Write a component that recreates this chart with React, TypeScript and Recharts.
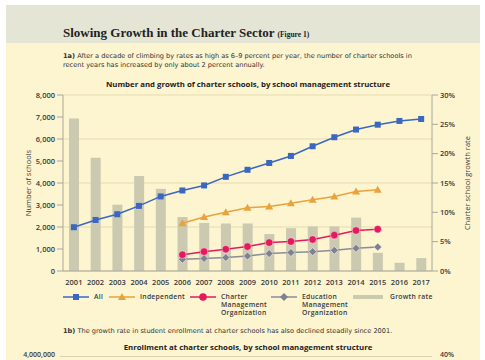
import React from "react";
import {
  ComposedChart, Bar, Line, XAxis, YAxis, CartesianGrid,
} from "recharts";

const years = ["2001", "2002", "2003", "2004", "2005", "2006", "2007", "2008", "2009",
  "2010", "2011", "2012", "2013", "2014", "2015", "2016", "2017"];
const allSchools = [1990, 2320, 2580, 2960, 3390, 3660, 3890, 4280, 4600, 4910, 5230, 5670, 6080, 6430, 6650, 6820, 6910];
const independent = [null, null, null, null, null, 2170, 2450, 2670, 2870, 2930, 3080, 3240, 3390, 3610, 3690, null, null];
const cmo = [null, null, null, null, null, 740, 880, 990, 1110, 1290, 1340, 1430, 1630, 1840, 1900, null, null];
const emo = [null, null, null, null, null, 530, 570, 610, 680, 790, 840, 880, 940, 1030, 1090, null, null];
const growthRate = [26.0, 19.3, 11.3, 16.2, 14.0, 9.2, 8.2, 8.1, 8.1, 6.3, 7.3, 7.6, 7.6, 9.1, 3.1, 1.4, 2.2];
const leftTicks = [0, 1000, 2000, 3000, 4000, 5000, 6000, 7000, 8000];
const rightTicks = [0, 5, 10, 15, 20, 25, 30];

const data = years.map((year, i) => ({
  year,
  all: allSchools[i],
  independent: independent[i],
  cmo: cmo[i],
  emo: emo[i],
  growth: growthRate[i],
}));

const BLUE = "#3b67c1";
const ORANGE = "#e8a33d";
const PINK = "#e31b5d";
const GRAY = "#7f8090";
const BAR = "#cbcab1";
const CREAM = "#fdf4d0";
const TEXT = "#3a3a3a";
const SANS = "'Open Sans', sans-serif";
const WIDE = "'DejaVu Sans', sans-serif";

const ok = (p: any) => p.cx != null && p.cy != null && p.value != null;

const SquareDot = (p: any) =>
  ok(p) ? <rect key={p.key} x={p.cx - 3} y={p.cy - 3} width={6} height={6} fill={BLUE} />
        : <g key={p.key} />;
const TriangleDot = (p: any) =>
  ok(p) ? <path key={p.key} d={`M${p.cx},${p.cy - 4}L${p.cx + 4},${p.cy + 3}L${p.cx - 4},${p.cy + 3}Z`} fill={ORANGE} />
        : <g key={p.key} />;
const CircleDot = (p: any) =>
  ok(p) ? <circle key={p.key} cx={p.cx} cy={p.cy} r={3.8} fill={PINK} stroke="rgba(255,255,255,0.45)" strokeWidth={1} />
        : <g key={p.key} />;
const DiamondDot = (p: any) =>
  ok(p) ? <path key={p.key} d={`M${p.cx},${p.cy - 4}L${p.cx + 4},${p.cy}L${p.cx},${p.cy + 4}L${p.cx - 4},${p.cy}Z`}
                fill={GRAY} stroke="rgba(255,255,255,0.55)" strokeWidth={1} />
        : <g key={p.key} />;

const tickStyle = { fill: TEXT, fontSize: 7.5, fontFamily: SANS, fontWeight: 600 };

function LegendItem({ left, color, marker, label }: { left: number; color: string; marker: React.ReactNode; label: string[] }) {
  return (
    <div style={{ position: "absolute", left, top: 292, display: "flex" }}>
      <svg width={28} height={10}>
        <line x1={0} y1={5} x2={26} y2={5} stroke={color} strokeWidth={1.5} />
        {marker}
      </svg>
      <div style={{ fontSize: 6.8, lineHeight: "8px", color: TEXT, fontFamily: SANS, fontWeight: 600, letterSpacing: 0.25, marginLeft: 3, marginTop: 1 }}>
        {label.map((l) => <div key={l}>{l}</div>)}
      </div>
    </div>
  );
}

export default function App() {
  return (
    <div style={{ position: "absolute", left: 0, top: 0, width: 485, height: 360, background: "#fff", overflow: "hidden" }}>
      <div style={{ position: "absolute", left: 6, top: 5, width: 474, height: 360, background: CREAM }} />
      <div style={{ position: "absolute", left: 6, top: 5, width: 474, height: 38, background: "#e4e5d5" }} />
      <div style={{ position: "absolute", left: 63, top: 25, fontFamily: "'Liberation Serif', serif", fontWeight: 700, fontSize: 13, color: "#222", whiteSpace: "nowrap" }}>
        Slowing Growth in the Charter Sector <span style={{ fontSize: 7.5 }}>(Figure 1)</span>
      </div>
      <div style={{ position: "absolute", left: 63, top: 52, width: 420, fontFamily: WIDE, fontSize: 6.6, lineHeight: "9px", color: "#333", whiteSpace: "nowrap" }}>
        <b>1a)</b> After a decade of climbing by rates as high as 6–9 percent per year, the number of charter schools in
        <br />recent years has increased by only about 2 percent annually.
      </div>
      <div style={{ position: "absolute", left: 63, width: 370, top: 79, textAlign: "center", fontFamily: SANS, fontWeight: 700, fontSize: 7.8, color: "#222" }}>
        Number and growth of charter schools, by school management structure
      </div>

      <div style={{ position: "absolute", left: 0, top: 0 }}>
        <ComposedChart width={485} height={290} data={data} margin={{ top: 95, right: 0, bottom: 0, left: 0 }}>
          <CartesianGrid yAxisId="left" vertical={false} stroke="#e6dcae" strokeWidth={1} />
          <XAxis dataKey="year" height={19} tickLine={false} axisLine={{ stroke: "#a8a89a" }} tick={tickStyle} interval={0} tickMargin={3} />
          <YAxis yAxisId="left" width={63} domain={[0, 8000]} ticks={leftTicks} tick={tickStyle}
            tickFormatter={(v: number) => v.toLocaleString("en-US")} tickSize={6} tickMargin={2}
            axisLine={{ stroke: "#a8a89a" }} tickLine={{ stroke: "#a8a89a" }}
            label={{ value: "Number of schools", angle: -90, position: "insideLeft", offset: 28, style: { fill: TEXT, fontSize: 7.5, fontFamily: SANS, textAnchor: "middle" } }} />
          <YAxis yAxisId="right" orientation="right" width={53} domain={[0, 30]} ticks={rightTicks} tick={{ ...tickStyle, textAnchor: "start" }}
            tickFormatter={(v: number) => `${v}%`} tickSize={6} tickMargin={2}
            axisLine={{ stroke: "#a8a89a" }} tickLine={{ stroke: "#a8a89a" }}
            label={{ value: "Charter school growth rate", angle: -90, position: "insideRight", offset: 18, style: { fill: TEXT, fontSize: 7.5, fontFamily: SANS, textAnchor: "middle" } }} />
          <Bar yAxisId="right" dataKey="growth" fill={BAR} barSize={10} isAnimationActive={false} />
          <Line yAxisId="left" dataKey="emo" stroke="#8b8c98" strokeWidth={1.5} dot={DiamondDot} isAnimationActive={false} />
          <Line yAxisId="left" dataKey="cmo" stroke={PINK} strokeWidth={1.5} dot={CircleDot} isAnimationActive={false} />
          <Line yAxisId="left" dataKey="independent" stroke={ORANGE} strokeWidth={1.5} dot={TriangleDot} isAnimationActive={false} />
          <Line yAxisId="left" dataKey="all" stroke={BLUE} strokeWidth={1.5} dot={SquareDot} isAnimationActive={false} />
        </ComposedChart>
      </div>

      <LegendItem left={63} color={BLUE} label={["All"]}
        marker={<rect x={10} y={2} width={6} height={6} fill={BLUE} />} />
      <LegendItem left={109} color={ORANGE} label={["Independent"]}
        marker={<path d="M13,1L17,8L9,8Z" fill={ORANGE} />} />
      <LegendItem left={190} color={PINK} label={["Charter", "Management", "Organization"]}
        marker={<circle cx={13} cy={5} r={3.8} fill={PINK} />} />
      <LegendItem left={271} color="#8b8c98" label={["Education", "Management", "Organization"]}
        marker={<path d="M13,1L17,5L13,9L9,5Z" fill={GRAY} />} />
      <div style={{ position: "absolute", left: 353, top: 292, display: "flex" }}>
        <div style={{ width: 30, height: 4, marginTop: 3, background: BAR }} />
        <div style={{ fontSize: 6.8, lineHeight: "8px", color: TEXT, fontFamily: SANS, fontWeight: 600, letterSpacing: 0.25, marginLeft: 7, marginTop: 1 }}>Growth rate</div>
      </div>

      <div style={{ position: "absolute", left: 63, top: 327, fontFamily: WIDE, fontSize: 6.6, color: "#333", whiteSpace: "nowrap" }}>
        <b>1b)</b> The growth rate in student enrollment at charter schools has also declined steadily since 2001.
      </div>
      <div style={{ position: "absolute", left: 63, width: 370, top: 342, textAlign: "center", fontFamily: SANS, fontWeight: 700, fontSize: 7.8, color: "#222" }}>
        Enrollment at charter schools, by school management structure
      </div>
      <div style={{ position: "absolute", left: 60, top: 356, width: 372, height: 1, background: "#d8d2b0" }} />
      <div style={{ position: "absolute", right: 430, top: 351, fontFamily: SANS, fontSize: 7, lineHeight: "8px", fontWeight: 600, color: TEXT }}>4,000,000</div>
      <div style={{ position: "absolute", left: 440, top: 351, fontFamily: SANS, fontSize: 7, lineHeight: "8px", fontWeight: 600, color: TEXT }}>40%</div>
    </div>
  );
}
